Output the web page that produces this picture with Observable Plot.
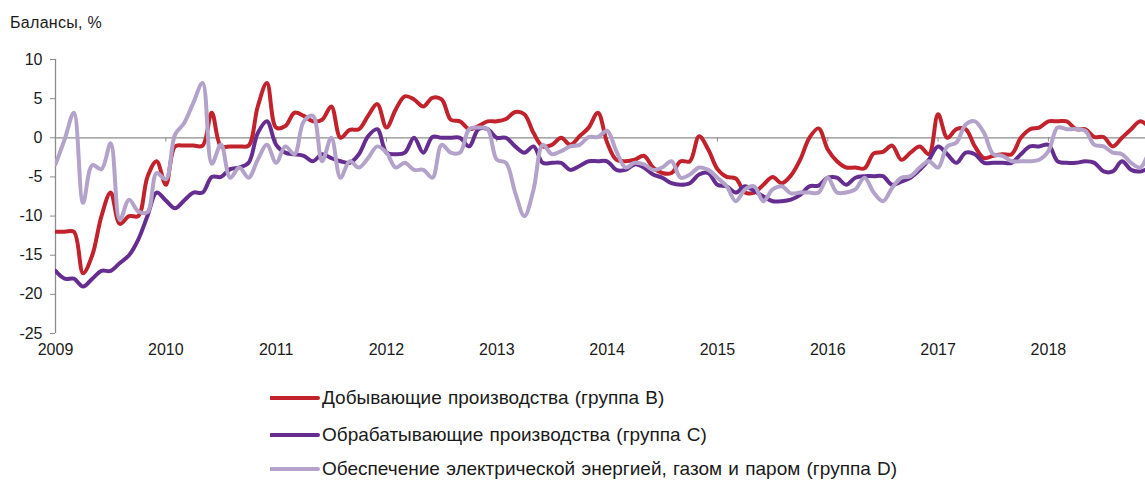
<!DOCTYPE html>
<html>
<head>
<meta charset="utf-8">
<script src="https://cdn.jsdelivr.net/npm/d3@7"></script>
<script src="https://cdn.jsdelivr.net/npm/@observablehq/plot@0.6"></script>
<style>
  html, body { margin: 0; padding: 0; background: #fff; }
  #wrap { position: relative; width: 1145px; height: 480px; overflow: hidden; font-family: "Liberation Sans", Arial, sans-serif; color: #1a1a1a; }
  #title { position: absolute; left: 10px; top: 14px; font-size: 16px; letter-spacing: 0.3px; }
  #chart { position: absolute; left: 0; top: 45px; }
  .leg { position: absolute; left: 270px; height: 24px; display: flex; align-items: center; font-family: "Liberation Sans", Arial, sans-serif; font-size: 19px; letter-spacing: 0px; word-spacing: 1px; white-space: nowrap; }
  .leg svg { display: block; margin-right: 2px; }
</style>
</head>
<body>
<div id="wrap">
  <div id="title">Балансы, %</div>
  <div id="chart"></div>
  <div id="legend"></div>
</div>
<script>
const seriesNames = [
  "Добывающие производства (группа B)",
  "Обрабатывающие производства (группа C)",
  "Обеспечение электрической энергией, газом и паром (группа D)"
];
const seriesColors = ["#c1222b", "#662d91", "#b3a2c9"];
const yTicks = [10, 5, 0, -5, -10, -15, -20, -25];
const yearTicks = [2009, 2010, 2011, 2012, 2013, 2014, 2015, 2016, 2017, 2018];

// Monthly balances, Jan 2009 – Dec 2018
const groupB = [
  -12, -12, -12, -17.3, -15, -10, -7, -11, -10, -10, -5, -3,
  -6, -1.1, -1, -1, -1, 3.2, -1.1, -1.1, -1.1, -1, 4, 7,
  1.3, 1.5, 3.2, 2.8, 2.1, 2.3, 4, 0, 1, 1.1, 2.8, 4.3,
  1.3, 3.6, 5.3, 4.9, 4, 5.1, 4.9, 2.3, 2.1, 1.1, 1.5, 2.1,
  2.1, 2.4, 3.3, 3, 0.6, -1.1, -0.9, 0, -0.9, 0.2, 1.3, 3.2,
  -0.6, -2.8, -3, -2.8, -2.3, -3.8, -4.5, -4.5, -3, -3, 0.2, -1.5,
  -4, -5, -5.2, -7, -7, -6, -5, -5.8, -4.8, -2.8, 0, 1.2,
  -1.5, -3, -3.8, -3.8, -3.9, -2, -1.8, -1, -2.8, -1.9, -1.1, -2.1,
  3, 0, 1.1, 1.1, -1.1, -2.6, -2.3, -2.1, -2.1, 0, 1.1, 1.3,
  2.1, 2.1, 2.1, 1.1, 1.1, 0.1, 0.1, -1.1, 0, 1.1, 2.1, 1.3
];
const groupC = [
  -17, -18, -18, -19, -18, -17, -17, -16, -15, -13, -10, -7,
  -8, -9, -8, -7, -7, -5, -5, -4, -3.8, -3.2, 0.6, 2.1,
  -0.9, -1.9, -2.1, -2.3, -3, -2.1, -2.6, -3, -3.2, -2.1, 0.2, 1.1,
  -1.9, -2.1, -1.9, 0, -1.9, 0.1, 0, 0, 0, -1.1, 1.1, 1.1,
  0, 0, -1.1, -1.9, -1.1, -3.2, -3.2, -3.2, -4.1, -3.6, -3, -3,
  -3, -4.1, -4.1, -3.4, -3.8, -4.7, -5.1, -5.8, -6, -5.8, -4.7, -4.5,
  -6, -6.2, -7, -6.2, -6.8, -7.5, -8.1, -8.1, -7.9, -7.3, -6.2, -6.1,
  -5.1, -5.1, -6, -5.1, -4.9, -4.9, -4.9, -6, -5.6, -5.1, -4.1, -2.8,
  -1.1, -2.1, -3.2, -1.9, -2.1, -3.2, -3.2, -3.2, -3.2, -2.1, -1.1, -1.1,
  -0.9, -3, -3.2, -3.2, -3, -3.2, -4.3, -4.3, -3, -4.1, -4.3, -3.8
];
const groupD = [
  -3.4, -0.2, 3.2, -8.3, -3.5, -4, -0.7, -10.5, -7.9, -9.4, -9.5, -4.5,
  -5.3, 0.4, 1.9, 4.5, 7, -3.3, -0.85, -5.1, -3.8, -5.1, -2.8, -0.9,
  -3.2, -1.1, -2.1, 2.1, 2.8, -3, 0, -5.1, -3, -3.8, -2.6, -1.1,
  -1.9, -3.8, -3.2, -4.1, -4.1, -5.1, -0.9, -1.9, -1.9, 1.1, 1.3, 1.1,
  -2.8, -3.2, -7, -10, -6.6, -0.9, -2.1, -1.7, -1.1, -0.9, 0.1, 0.1,
  0.9, -1.7, -3.8, -3.2, -3.4, -4.1, -3.8, -3, -5.1, -4.7, -3.8, -4.1,
  -5.1, -6.2, -8.1, -6.6, -6.2, -8.1, -6.6, -6.2, -7.1, -7, -7, -7,
  -5.1, -7, -7, -6.6, -5.1, -7, -8.1, -6.4, -5.1, -4.9, -3.8, -3,
  -3.8, -1.1, -0.6, 1.7, 2.1, 0.6, -2.1, -2.3, -3, -3, -3, -2.8,
  -1.7, 1.3, 1.1, 1.1, 0.9, -0.9, -1.1, -1.9, -2.1, -3.2, -3.8, -1.5
];

const seriesValues = [groupB, groupC, groupD];
const rows = [];
seriesValues.forEach((vals, k) => vals.forEach((v, i) => rows.push({t: 2009 + i / 12, v, s: seriesNames[k]})));

const plot = Plot.plot({
  width: 1145,
  height: 321,
  marginLeft: 55,
  marginRight: 0,
  marginTop: 14,
  marginBottom: 33,
  style: {fontFamily: "'Liberation Sans', Arial, sans-serif", color: "#1a1a1a", background: "transparent"},
  x: {domain: [2009, 2018.88], axis: null},
  y: {domain: [-25, 10], axis: null},
  color: {domain: seriesNames, range: seriesColors},
  marks: [
    Plot.ruleX([2009], {y1: -25, y2: 10, stroke: "#8c8c8c", strokeWidth: 1.3}),
    Plot.axisY({ticks: yTicks, tickSize: 5, tickPadding: 8, tickFormat: d => String(d), stroke: "#8c8c8c", fontSize: 16, label: null}),
    Plot.ruleY([0], {stroke: "#8c8c8c", strokeWidth: 1.3}),
    Plot.ruleX(yearTicks, {y1: 0, y2: -0.55, stroke: "#8c8c8c"}),
    Plot.axisX({ticks: yearTicks, tickSize: 0, tickPadding: 10, tickFormat: d => String(d), fontSize: 16, label: null}),
    Plot.line(rows, {x: "t", y: "v", z: "s", stroke: "s", strokeWidth: 4, curve: "catmull-rom", clip: true})
  ]
});
document.getElementById("chart").appendChild(plot);

const legend = document.getElementById("legend");
const legTops = [386, 423, 457];
seriesNames.forEach((name, k) => {
  const row = document.createElement("div");
  row.className = "leg";
  row.style.top = legTops[k] + "px";
  row.innerHTML = `<svg width="50" height="6"><line x1="1" y1="3" x2="48" y2="3" stroke="${seriesColors[k]}" stroke-width="4" stroke-linecap="round"/></svg><span>${name}</span>`;
  legend.appendChild(row);
});
</script>
</body>
</html>
